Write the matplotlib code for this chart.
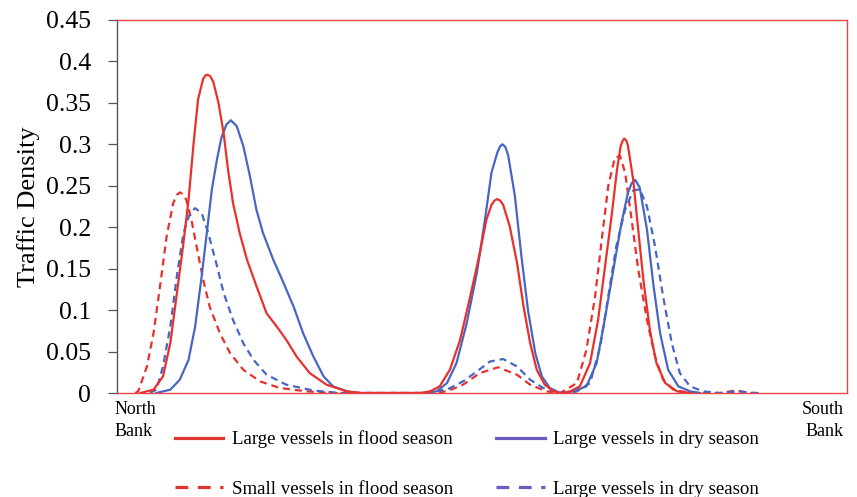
import matplotlib
matplotlib.use("Agg")
import matplotlib.pyplot as plt
from matplotlib.lines import Line2D

# position across the river (% of width, North Bank = 0) and traffic density
x_large_flood = [3.2, 5.0, 6.3, 7.3, 8.2, 9.1, 9.8, 10.5, 11.1, 11.8, 12.1, 12.4, 12.8, 13.2, 13.9, 14.6, 15.2, 15.9,
                 16.8, 17.8, 19.1, 20.5, 21.9, 23.2, 24.6, 26.4, 28.7, 31.5, 33.3,
                 41.5, 42.9, 44.2, 45.6, 47.0, 48.4, 49.7, 50.6, 51.3, 51.7, 52.1, 52.5, 52.9, 53.8, 54.8, 55.7,
                 56.6, 57.5, 58.6, 59.8, 60.9,
                 62.1, 63.4, 64.8, 65.9, 66.8, 67.8, 68.5, 69.0, 69.3, 69.5, 69.8, 70.0, 70.7, 71.4, 72.1, 73.0,
                 73.9, 75.1, 76.7, 78.5]
y_large_flood = [0.0, 0.004, 0.020, 0.060, 0.120, 0.181, 0.233, 0.302, 0.354, 0.379, 0.383, 0.384, 0.382, 0.375, 0.350,
                 0.314, 0.270, 0.229, 0.193, 0.161, 0.129, 0.096, 0.080, 0.064, 0.044, 0.024, 0.010,
                 0.002, 0.0,
                 0.0, 0.002, 0.008, 0.028, 0.064, 0.117, 0.169, 0.209, 0.227, 0.232, 0.234, 0.232, 0.227, 0.201,
                 0.157, 0.104, 0.060, 0.028, 0.010, 0.002, 0.0,
                 0.002, 0.008, 0.036, 0.088, 0.149, 0.217, 0.270, 0.298, 0.305, 0.307, 0.304, 0.298, 0.258, 0.197,
                 0.137, 0.076, 0.036, 0.012, 0.002, 0.0]

x_large_dry = [5.4, 7.3, 8.6, 9.8, 10.7, 11.6, 12.3, 13.0, 13.7, 14.3, 15.0, 15.6, 16.4, 17.3, 18.2,
               19.1, 20.0, 21.4, 22.8, 24.2, 25.5, 26.9, 28.3, 29.6, 31.5, 33.3,
               42.3, 43.8, 45.2, 46.5, 47.9, 49.3, 50.4, 51.3, 52.1, 52.5, 52.8, 53.2, 53.6, 54.5, 55.4, 56.3,
               57.3, 58.2, 59.3, 60.7,
               62.5, 64.3, 65.7, 66.8, 68.0, 69.1, 70.0, 70.5, 71.0, 71.6, 72.6, 73.5, 74.4, 75.5, 76.9,
               78.5, 79.9]
y_large_dry = [0.0, 0.004, 0.016, 0.040, 0.080, 0.141, 0.193, 0.246, 0.282, 0.308, 0.324, 0.329, 0.322,
               0.298, 0.262, 0.221, 0.193, 0.161, 0.133, 0.104, 0.072, 0.044, 0.020, 0.008, 0.002, 0.0,
               0.0, 0.002, 0.012, 0.036, 0.084, 0.145, 0.209, 0.266, 0.290, 0.298, 0.300, 0.297, 0.286, 0.238,
               0.165, 0.100, 0.048, 0.020, 0.006, 0.0,
               0.002, 0.008, 0.036, 0.088, 0.149, 0.205, 0.242, 0.253, 0.257, 0.248, 0.197, 0.129, 0.072,
               0.028, 0.008, 0.002, 0.0]

x_small_flood = [2.5, 2.9, 4.1, 5.0, 5.9, 6.8, 7.7, 8.2, 8.6, 9.0, 9.5, 10.2, 10.9, 11.8, 12.7, 14.1, 15.5, 17.3,
                 19.6, 22.3, 26.0, 29.2,
                 42.9, 45.2, 47.4, 49.7, 52.2, 54.8, 56.6, 58.8, 60.7,
                 61.1, 63.0, 64.3, 65.5, 66.4, 67.3, 68.2, 68.9, 69.6, 70.5, 71.4, 72.6, 73.7, 74.8,
                 76.2, 78.5, 82.6, 84.7, 86.7, 88.1]
y_small_flood = [0.0, 0.002, 0.032, 0.072, 0.129, 0.189, 0.229, 0.239, 0.242, 0.240, 0.233, 0.209, 0.177, 0.137, 0.104,
                 0.072, 0.048, 0.028, 0.014, 0.006, 0.002, 0.0,
                 0.0, 0.002, 0.010, 0.024, 0.031, 0.022, 0.010, 0.002, 0.0,
                 0.002, 0.012, 0.052, 0.117, 0.185, 0.250, 0.284, 0.286, 0.266, 0.209, 0.149, 0.088,
                 0.044, 0.016, 0.004, 0.0, 0.0, 0.003, 0.0, 0.0]

x_dry_dashed = [4.5, 5.4, 6.3, 7.3, 8.2, 9.1, 10.0, 10.7, 11.6, 12.5, 13.7, 14.6, 15.9, 17.3, 18.7, 20.5,
                23.2, 26.9, 30.5,
                41.5, 45.2, 47.4, 49.3, 51.1, 52.9, 54.8, 56.6, 58.4, 60.2, 62.1,
                63.0, 64.8, 66.2, 67.3, 68.4, 69.6, 70.7, 71.6, 72.6, 73.7, 74.8, 76.0, 77.1, 78.5,
                80.3, 82.6, 85.1, 87.4, 88.1]
y_dry_dashed = [0.0, 0.004, 0.032, 0.080, 0.141, 0.193, 0.217, 0.223, 0.217, 0.193, 0.153, 0.121, 0.088,
                0.060, 0.040, 0.022, 0.010, 0.003, 0.0,
                0.0, 0.004, 0.014, 0.026, 0.038, 0.041, 0.032, 0.016, 0.006, 0.002, 0.0,
                0.002, 0.012, 0.056, 0.117, 0.177, 0.221, 0.244, 0.246, 0.225, 0.177, 0.117, 0.060,
                0.024, 0.008, 0.002, 0.0, 0.002, 0.0, 0.0]

legend_labels = ["Large vessels in flood season", "Small vessels in flood season",
                 "Large vessels in dry season", "Large vessels in dry season"]
y_ticks = [0, 0.05, 0.1, 0.15, 0.2, 0.25, 0.3, 0.35, 0.4, 0.45]
y_ticklabels = ["0", "0.05", "0.1", "0.15", "0.2", "0.25", "0.3", "0.35", "0.4", "0.45"]

RED = "#e8302c"
BLUE = "#4766c4"
LEG_RED = "#e0352e"
LEG_BLUE = "#6a5cc0"
SPINE_RED = "#e84545"

plt.rcParams["font.family"] = ["Liberation Serif", "DejaVu Serif"]

fig = plt.figure(figsize=(8.57, 4.97), dpi=100)
ax = fig.add_axes([117 / 857, 1 - 393 / 497, 730 / 857, 373 / 497])

lw = 1.6
dash = (0, (3.2, 2.2))
ax.plot(x_small_flood, y_small_flood, color=RED, lw=lw, linestyle=dash)
ax.plot(x_dry_dashed, y_dry_dashed, color=BLUE, lw=lw, linestyle=dash)
ax.plot(x_large_dry, y_large_dry, color=BLUE, lw=lw, solid_joinstyle="round")
ax.plot(x_large_flood, y_large_flood, color=RED, lw=lw, solid_joinstyle="round")

ax.set_xlim(0, 100)
ax.set_ylim(0, 0.45)
ax.set_xticks([])
ax.set_yticks(y_ticks)
ax.set_yticklabels(y_ticklabels)
ax.tick_params(axis="y", direction="out", length=6.5, width=0.9, color="#555555",
               pad=12, labelsize=18.5)
for s in ["top", "right", "bottom"]:
    ax.spines[s].set_color(SPINE_RED)
    ax.spines[s].set_linewidth(1.0)
ax.spines["left"].set_color("#555555")
ax.spines["left"].set_linewidth(1.0)

ax.set_ylabel("Traffic Density", fontsize=19)
ax.yaxis.set_label_coords(-0.105, 0.5)

fig.text(115 / 857, 1 - 401 / 497, "North\nBank", ha="left", va="top", fontsize=13,
         linespacing=1.4)
fig.text(844 / 857, 1 - 401 / 497, "South\nBank", ha="right", va="top", fontsize=13,
         linespacing=1.4)

handles = [
    Line2D([], [], color=LEG_RED, lw=2.3),
    Line2D([], [], color=LEG_RED, lw=2.3, linestyle=(0, (4, 3))),
    Line2D([], [], color=LEG_BLUE, lw=2.3),
    Line2D([], [], color=LEG_BLUE, lw=2.3, linestyle=(0, (4, 3))),
]
fig.legend(handles, legend_labels, ncol=2, loc="center",
           bbox_to_anchor=(467 / 857, 1 - 464 / 497), frameon=False, fontsize=13.6,
           handlelength=2.55, handletextpad=0.45, columnspacing=2.3, labelspacing=1.7)

fig.savefig("out.png", dpi=100)
